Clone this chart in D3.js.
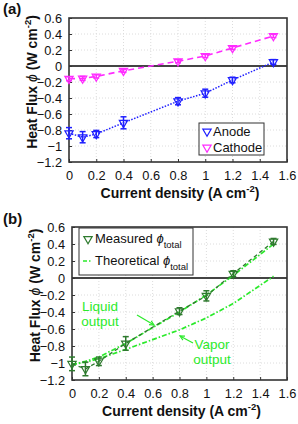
<!DOCTYPE html>
<html>
<head>
<meta charset="utf-8">
<script src="https://cdn.jsdelivr.net/npm/d3@7"></script>
<style>
  body { margin: 0; background: #fff; }
  svg { display: block; font-family: "Liberation Sans", Arial, sans-serif; }
</style>
</head>
<body>
<svg id="chart" width="298" height="424"></svg>
<script>
// current density (A cm-2)
var currents = [0, 0.1, 0.2, 0.4, 0.8, 1.0, 1.2, 1.5]
var xTicks = [0, 0.2, 0.4, 0.6, 0.8, 1, 1.2, 1.4, 1.6]
var yTicks = [-1.2, -1, -0.8, -0.6, -0.4, -0.2, 0, 0.2, 0.4, 0.6]

// panel (a)
var anode = [-0.84, -0.89, -0.85, -0.71, -0.44, -0.34, -0.175, 0.05]
var anodeErr = [0.07, 0.07, 0.045, 0.075, 0.045, 0.05, 0.035, 0.03]
var cathode = [-0.16, -0.155, -0.13, -0.06, 0.06, 0.125, 0.225, 0.375]
var cathodeErr = [0.025, 0.025, 0.02, 0.02, 0.02, 0.02, 0.02, 0.02]

// panel (b)
var measured = [-1.01, -1.07, -0.98, -0.77, -0.39, -0.21, 0.05, 0.43]
var measuredErr = [0.08, 0.08, 0.05, 0.08, 0.04, 0.06, 0.035, 0.035]
var liquid = [-1.02, -0.98, -0.93, -0.77, -0.40, -0.20, 0.03, 0.40]
var vapor = [-1.02, -0.99, -0.95, -0.84, -0.61, -0.47, -0.30, 0.02]

var svg = d3.select('#chart')

function panel(opt) {
  var x = d3.scaleLinear().domain([0, 1.6]).range([opt.left, opt.right])
  var y = d3.scaleLinear().domain([-1.2, 0.6]).range([opt.bottom, opt.top])
  var g = svg.append('g')

  // grid
  g.selectAll('line.gx').data(xTicks.slice(1, -1)).enter().append('line')
    .attr('x1', d => x(d)).attr('x2', d => x(d))
    .attr('y1', opt.top).attr('y2', opt.bottom)
    .style('stroke', '#dcdcdc').style('stroke-dasharray', '1,2')
  g.selectAll('line.gy').data(yTicks.slice(1, -1)).enter().append('line')
    .attr('y1', d => y(d)).attr('y2', d => y(d))
    .attr('x1', opt.left).attr('x2', opt.right)
    .style('stroke', '#dcdcdc').style('stroke-dasharray', '1,2')

  // zero line
  g.append('line')
    .attr('x1', opt.left).attr('x2', opt.right)
    .attr('y1', y(0)).attr('y2', y(0))
    .style('stroke', '#444').style('stroke-width', 2)

  // axes, ticks inward
  var xAxis = g.append('g').attr('transform', 'translate(0,' + opt.bottom + ')')
    .call(d3.axisBottom(x).tickValues(xTicks).tickSize(-3).tickPadding(9).tickFormat(d3.format('')))
  var yAxis = g.append('g').attr('transform', 'translate(' + opt.left + ',0)')
    .call(d3.axisLeft(y).tickValues(yTicks).tickSize(-3).tickPadding(7).tickFormat(d3.format('')))
  ;[xAxis, yAxis].forEach(a => {
    a.select('.domain').remove()
    a.selectAll('text').style('font-size', '12.8px').style('fill', '#111')
      .style('font-family', '"Liberation Sans", Arial, sans-serif')
    a.selectAll('line').style('stroke', '#333')
  })

  // box
  g.append('rect')
    .attr('x', opt.left).attr('y', opt.top)
    .attr('width', opt.right - opt.left).attr('height', opt.bottom - opt.top)
    .style('fill', 'none').style('stroke', '#333').style('stroke-width', 1.6)

  // axis labels
  var xl = g.append('text')
    .attr('x', (opt.left + opt.right) / 2 + 2).attr('y', opt.bottom + 36)
    .attr('text-anchor', 'middle')
    .style('font-size', '14px').style('font-weight', 'bold').style('fill', '#111')
  xl.append('tspan').text('Current density (A cm')
  xl.append('tspan').attr('dy', -6).style('font-size', '9.5px').text('-2')
  xl.append('tspan').attr('dy', 6).text(')')

  var yl = g.append('text')
    .attr('transform', 'translate(' + (opt.left - 32.5) + ',' + (opt.top + opt.bottom - 16) / 2 + ') rotate(-90)')
    .attr('text-anchor', 'middle')
    .style('font-size', '14px').style('font-weight', 'bold').style('fill', '#111')
  yl.append('tspan').text('Heat Flux ')
  yl.append('tspan').style('font-style', 'italic').style('font-weight', 'normal').text('ϕ')
  yl.append('tspan').text(' (W cm')
  yl.append('tspan').attr('dy', -6).style('font-size', '9.5px').text('-2')
  yl.append('tspan').attr('dy', 6).text(')')

  g.append('text').attr('x', opt.tagX).attr('y', opt.tagY)
    .style('font-size', '15px').style('font-weight', 'bold').style('fill', '#111')
    .text(opt.tag)

  return { g: g, x: x, y: y }
}

var tri = d3.symbol().type(d3.symbolTriangle).size(30)

function drawSeries(p, vals, errs, color, dash, width) {
  var line = d3.line().x((d, i) => p.x(currents[i])).y(d => p.y(d))
  p.g.append('path').datum(vals).attr('d', line)
    .style('fill', 'none').style('stroke', color)
    .style('stroke-width', width).style('stroke-dasharray', dash)
  if (!errs) return
  var eb = p.g.selectAll(null).data(vals).enter().append('g')
    .attr('transform', (d, i) => 'translate(' + p.x(currents[i]) + ',0)')
  eb.append('line')
    .attr('y1', (d, i) => p.y(d - errs[i])).attr('y2', (d, i) => p.y(d + errs[i]))
    .style('stroke', color).style('stroke-width', 1.5)
  eb.append('line').attr('x1', -3).attr('x2', 3)
    .attr('y1', (d, i) => p.y(d - errs[i])).attr('y2', (d, i) => p.y(d - errs[i]))
    .style('stroke', color).style('stroke-width', 1.5)
  eb.append('line').attr('x1', -3).attr('x2', 3)
    .attr('y1', (d, i) => p.y(d + errs[i])).attr('y2', (d, i) => p.y(d + errs[i]))
    .style('stroke', color).style('stroke-width', 1.5)
  eb.append('path').attr('d', tri)
    .attr('transform', (d) => 'translate(0,' + p.y(d) + ') rotate(180)')
    .style('fill', 'none').style('stroke', color).style('stroke-width', 1.2)
}

// ---------- panel (a)
var pa = panel({ left: 69, right: 287, top: 18, bottom: 162, tag: '(a)', tagX: 3, tagY: 14 })
drawSeries(pa, anode, anodeErr, '#1f1fff', '1.5,1.5', 1.5)
drawSeries(pa, cathode, cathodeErr, '#ff2bff', '6,4', 1.6)

var legA = pa.g.append('g').attr('transform', 'translate(199,123)')
legA.append('rect').attr('width', 65).attr('height', 32)
  .style('fill', '#fff').style('stroke', '#333').style('stroke-width', 1)
;[['Anode', '#1f1fff'], ['Cathode', '#ff2bff']].forEach((e, i) => {
  legA.append('path').attr('d', tri)
    .attr('transform', 'translate(8,' + (8.5 + i * 16) + ') rotate(180)')
    .style('fill', 'none').style('stroke', e[1]).style('stroke-width', 1.2)
  legA.append('text').attr('x', 14).attr('y', 13 + i * 16)
    .style('font-size', '13px').style('fill', '#111').text(e[0])
})

// ---------- panel (b)
var pb = panel({ left: 72, right: 287, top: 227, bottom: 380, tag: '(b)', tagX: 3, tagY: 224 })
var bright = '#2bea2b'
drawSeries(pb, vapor, null, bright, '5,2,1.5,2', 1.7)
drawSeries(pb, liquid, null, bright, '5,2,1.5,2', 1.7)
drawSeries(pb, measured, measuredErr, '#2e7a2e', '4,3', 1.3)

var legB = pb.g.append('g').attr('transform', 'translate(79,228)')
legB.append('rect').attr('width', 114).attr('height', 47)
  .style('fill', '#fff').style('stroke', '#333').style('stroke-width', 1)
legB.append('path').attr('d', tri)
  .attr('transform', 'translate(9,11) rotate(180)')
  .style('fill', 'none').style('stroke', '#2e7a2e').style('stroke-width', 1.2)
legB.append('line').attr('x1', 4).attr('x2', 13).attr('y1', 33).attr('y2', 33)
  .style('stroke', bright).style('stroke-width', 1.5).style('stroke-dasharray', '4,2,1.5,2')
;['Measured ', 'Theoretical '].forEach((t, i) => {
  var tx = legB.append('text').attr('x', 16).attr('y', 15 + i * 22)
    .style('font-size', '13px').style('fill', '#111')
  tx.append('tspan').text(t)
  tx.append('tspan').style('font-style', 'italic').text('ϕ')
  tx.append('tspan').attr('dy', 5).style('font-size', '9.5px').text('total')
})

// annotations
function note(lines, cx, cy, from, to) {
  var t = pb.g.append('text').attr('text-anchor', 'middle')
    .style('font-size', '13.5px').style('fill', bright)
  lines.forEach((l, i) => t.append('tspan').attr('x', cx).attr('y', cy + i * 15).text(l))
  pb.g.append('line')
    .attr('x1', from[0]).attr('y1', from[1]).attr('x2', to[0]).attr('y2', to[1])
    .style('stroke', bright).style('stroke-width', 1.2)
  var ang = Math.atan2(to[1] - from[1], to[0] - from[0])
  var a1 = ang + Math.PI - 0.45, a2 = ang + Math.PI + 0.45
  pb.g.append('path')
    .attr('d', 'M' + (to[0] + 5 * Math.cos(a1)) + ',' + (to[1] + 5 * Math.sin(a1)) +
      'L' + to[0] + ',' + to[1] + 'L' + (to[0] + 5 * Math.cos(a2)) + ',' + (to[1] + 5 * Math.sin(a2)))
    .style('fill', 'none').style('stroke', bright).style('stroke-width', 1.2)
}
note(['Liquid', 'output'], 100, 311, [137, 315], [154, 325])
note(['Vapor', 'output'], 212, 349, [193, 343], [180, 336])
</script>
</body>
</html>
